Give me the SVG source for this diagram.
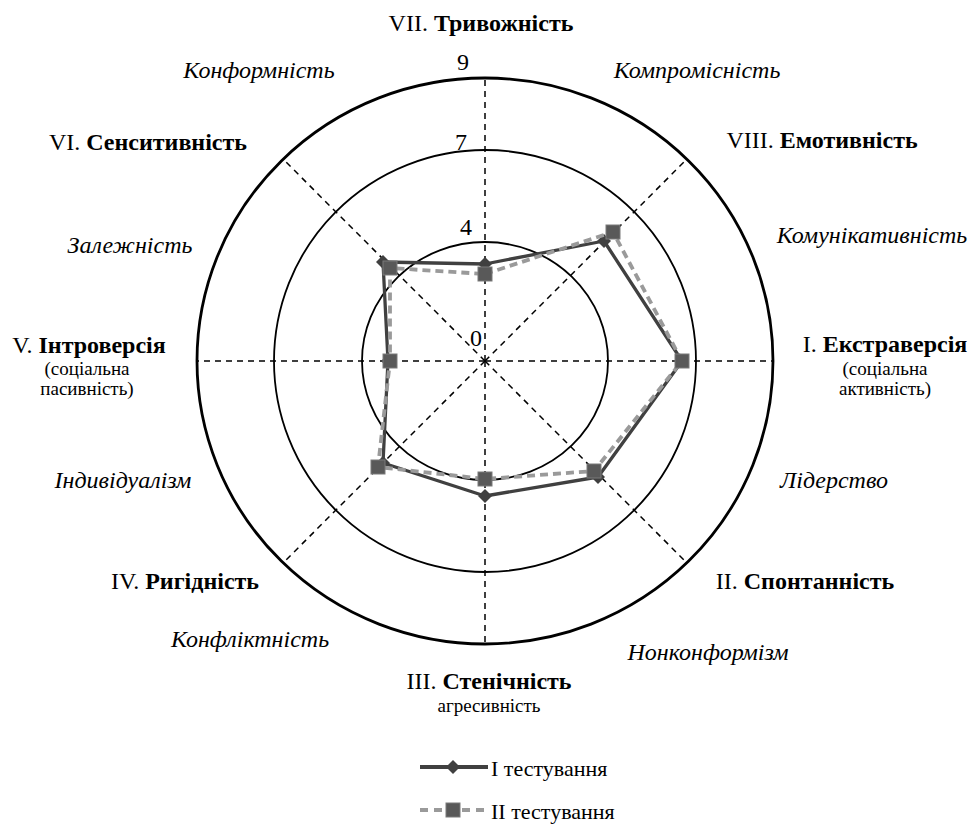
<svg xmlns="http://www.w3.org/2000/svg" width="973" height="824" viewBox="0 0 973 824">
<style>
text{font-family:"Liberation Serif","DejaVu Serif",serif;fill:#000}
.lab{font-size:24px;text-anchor:middle}
.it{font-size:24px;font-style:italic;text-anchor:middle}
.sub{font-size:19px;text-anchor:middle}
.num{font-size:24px;text-anchor:middle}
.b{font-weight:bold}
.grid{fill:none;stroke:#000;stroke-width:1.8}
.outer{fill:none;stroke:#000;stroke-width:2.8}
.axis{stroke:#000;stroke-width:1.5;stroke-dasharray:6 5;fill:none}
.s1{fill:none;stroke:#404040;stroke-width:3.3;stroke-linejoin:round}
.s2{fill:none;stroke:#9a9a9a;stroke-width:3.8;stroke-dasharray:8 5}
.m1{fill:#404040}
.m2{fill:#595959;stroke:#7a7a7a;stroke-width:1}
</style>
<defs>
<path id="dia" d="M0,-7 L7,0 L0,7 L-7,0Z"/>
<rect id="sq" x="-7" y="-7" width="14" height="14"/>
</defs>
<rect width="973" height="824" fill="#fff"/>
<g id="grid">
<ellipse class="outer" cx="485" cy="361" rx="288" ry="283"/>
<circle class="grid" cx="485" cy="361" r="211"/>
<ellipse class="grid" cx="485" cy="361" rx="123" ry="119"/>
</g>
<g id="axes">
<line class="axis" x1="485" y1="361" x2="485" y2="78"/>
<line class="axis" x1="485" y1="361" x2="485" y2="644"/>
<line class="axis" x1="485" y1="361" x2="197" y2="361"/>
<line class="axis" x1="485" y1="361" x2="773" y2="361"/>
<line class="axis" x1="485" y1="361" x2="686" y2="160"/>
<line class="axis" x1="485" y1="361" x2="686" y2="562"/>
<line class="axis" x1="485" y1="361" x2="284" y2="562"/>
<line class="axis" x1="485" y1="361" x2="284" y2="160"/>
</g>
<g id="scale">
<text class="num" x="463" y="70">9</text>
<text class="num" x="461" y="150">7</text>
<text class="num" x="466" y="235">4</text>
<text class="num" x="476" y="346">0</text>
</g>
<g id="series1">
<polygon class="s1" points="485,264 604,241 682,361 598,477 485,496 383,463 388,361 383,262"/>
<use href="#dia" class="m1" x="485" y="264"/>
<use href="#dia" class="m1" x="604" y="241"/>
<use href="#dia" class="m1" x="682" y="361"/>
<use href="#dia" class="m1" x="598" y="477"/>
<use href="#dia" class="m1" x="485" y="496"/>
<use href="#dia" class="m1" x="383" y="463"/>
<use href="#dia" class="m1" x="388" y="361"/>
<use href="#dia" class="m1" x="383" y="262"/>
</g>
<g id="series2">
<polygon class="s2" points="485,274 613,232 682,361 594,471 485,479 378,467 390,361 390,268"/>
<use href="#sq" class="m2" x="485" y="274"/>
<use href="#sq" class="m2" x="613" y="232"/>
<use href="#sq" class="m2" x="682" y="361"/>
<use href="#sq" class="m2" x="594" y="471"/>
<use href="#sq" class="m2" x="485" y="479"/>
<use href="#sq" class="m2" x="378" y="467"/>
<use href="#sq" class="m2" x="390" y="361"/>
<use href="#sq" class="m2" x="390" y="268"/>
</g>
<g id="labels">
<text class="lab" x="481" y="31">VII. <tspan class="b">Тривожність</tspan></text>
<text class="it" x="259" y="78">Конформність</text>
<text class="it" x="697" y="78">Компромісність</text>
<text class="lab" x="822" y="148">VIII. <tspan class="b">Емотивність</tspan></text>
<text class="lab" x="247" y="150" style="text-anchor:end">VI. <tspan class="b">Сенситивність</tspan></text>
<text class="it" x="130" y="253">Залежність</text>
<text class="it" x="872" y="243">Комунікативність</text>
<text class="lab" x="885" y="352">I. <tspan class="b">Екстраверсія</tspan></text>
<text class="sub" x="885" y="375">(соціальна</text>
<text class="sub" x="885" y="395">активність)</text>
<text class="lab" x="89" y="353">V. <tspan class="b">Інтроверсія</tspan></text>
<text class="sub" x="87" y="375">(соціальна</text>
<text class="sub" x="87" y="395">пасивність)</text>
<text class="it" x="123" y="488">Індивідуалізм</text>
<text class="it" x="834" y="488">Лідерство</text>
<text class="lab" x="185" y="589">IV. <tspan class="b">Ригідність</tspan></text>
<text class="lab" x="805" y="589">II. <tspan class="b">Спонтанність</tspan></text>
<text class="it" x="250" y="647">Конфліктність</text>
<text class="it" x="708" y="660">Нонконформізм</text>
<text class="lab" x="489" y="689">III. <tspan class="b">Стенічність</tspan></text>
<text class="sub" x="489" y="712">агресивність</text>
</g>
<g id="legend">
<line x1="420" y1="767" x2="488" y2="767" stroke="#404040" stroke-width="3.8"/>
<use href="#dia" class="m1" x="453" y="767"/>
<text x="491" y="776" style="font-size:22px">І тестування</text>
<line x1="420" y1="810" x2="488" y2="810" stroke="#9a9a9a" stroke-width="3.8" stroke-dasharray="8 6"/>
<use href="#sq" class="m2" x="453" y="810"/>
<text x="491" y="819" style="font-size:22px">ІІ тестування</text>
</g>
</svg>
